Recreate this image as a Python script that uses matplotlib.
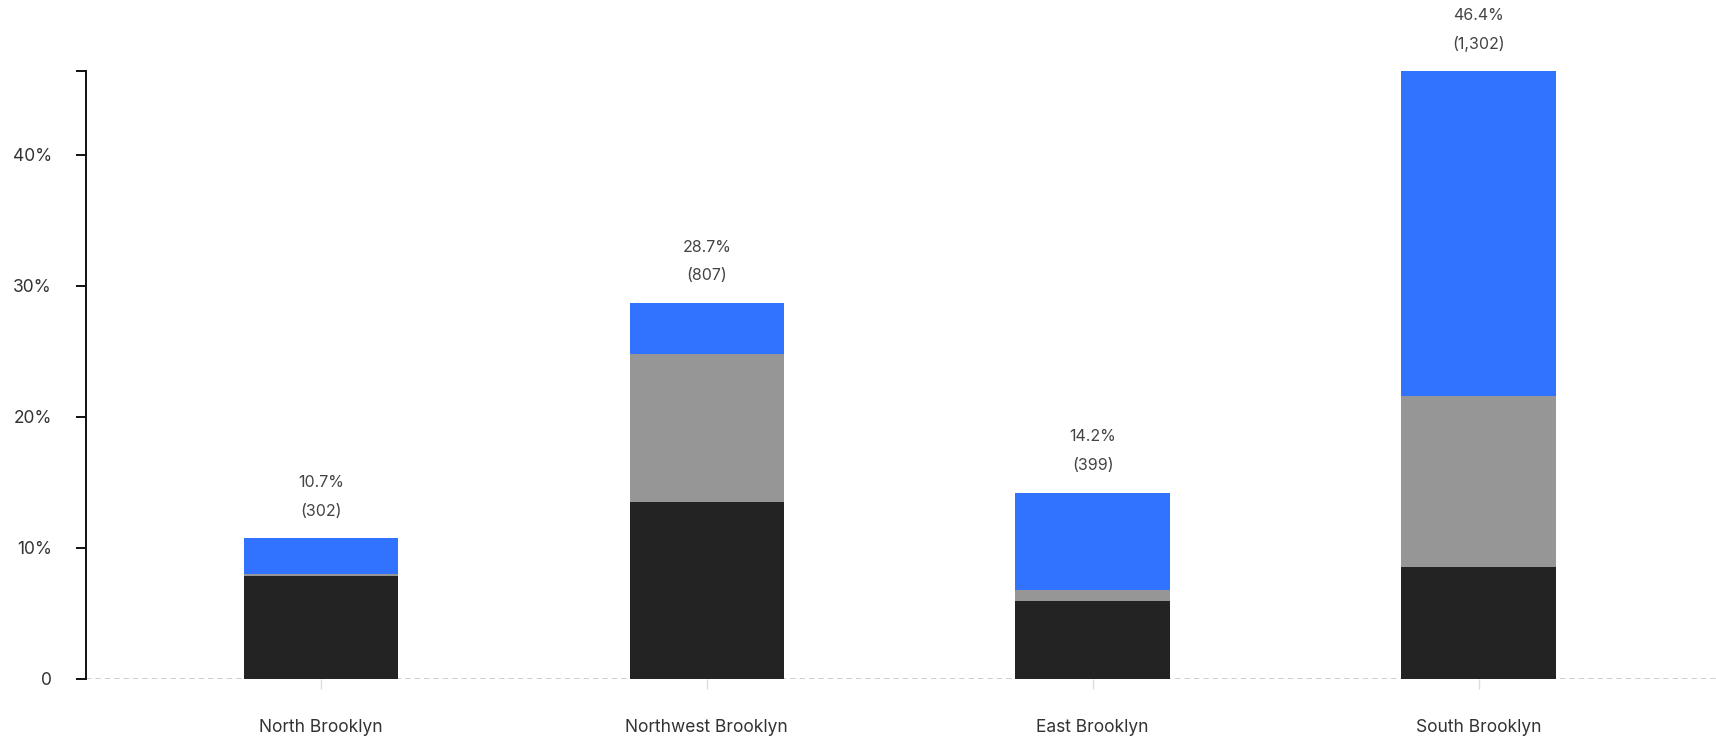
import matplotlib.pyplot as plt
import numpy as np

plt.rcParams['font.family'] = ['Inter', 'DejaVu Sans']

regions = ['North Brooklyn', 'Northwest Brooklyn', 'East Brooklyn', 'South Brooklyn']
black_part = [7.85, 13.5, 5.9, 8.5]
gray_part = [0.15, 11.3, 0.85, 13.05]
blue_part = [2.7, 3.9, 7.45, 24.85]
totals = [10.7, 28.7, 14.2, 46.4]
counts = ['(302)', '(807)', '(399)', '(1,302)']
yticks = [0, 10, 20, 30, 40]
ytick_labels = ['0', '10%', '20%', '30%', '40%']

fig = plt.figure(figsize=(17.16, 7.41), dpi=100)
ax = fig.add_axes([0.0504, 0.0843, 0.9496, 0.8203])

x = np.arange(len(regions))
b = np.array(black_part)
g = np.array(gray_part)
u = np.array(blue_part)
w = 0.4
ax.bar(x, b, width=w, color='#232323', zorder=2)
ax.bar(x, g, width=w, bottom=b, color='#969696', zorder=2)
ax.bar(x, u, width=w, bottom=b + g, color='#3172ff', zorder=2)

for xi, tot, cnt in zip(x, totals, counts):
    top = b[xi] + g[xi] + u[xi]
    ax.annotate(f'{tot}%', (xi, top), xytext=(0, 40), textcoords='offset points',
                ha='center', va='center', fontsize=11.5, color='#444444',
                annotation_clip=False)
    ax.annotate(cnt, (xi, top), xytext=(0, 19.5), textcoords='offset points',
                ha='center', va='center', fontsize=11.5, color='#444444',
                annotation_clip=False)

ymax = max(totals)
ax.set_xlim(-0.607, 3.615)
ax.set_ylim(0, ymax)

ax.axhline(0, color='#cccccc', lw=1.3, ls=(0, (3, 2.2)), zorder=1)

for s in ['top', 'right', 'bottom']:
    ax.spines[s].set_visible(False)
ax.spines['left'].set_color('#111111')
ax.spines['left'].set_linewidth(1.4)

ax.set_yticks(yticks + [ymax])
ax.set_yticklabels(ytick_labels + [''])
ax.tick_params(axis='y', length=7, width=1.4, color='#111111', pad=18,
               labelsize=12.5, labelcolor='#333333')

ax.set_xticks(x)
ax.set_xticklabels(regions)
ax.tick_params(axis='x', length=7, width=1, color='#dddddd', pad=22,
               labelsize=12.5, labelcolor='#333333')

fig.savefig('out.png', dpi=100)
